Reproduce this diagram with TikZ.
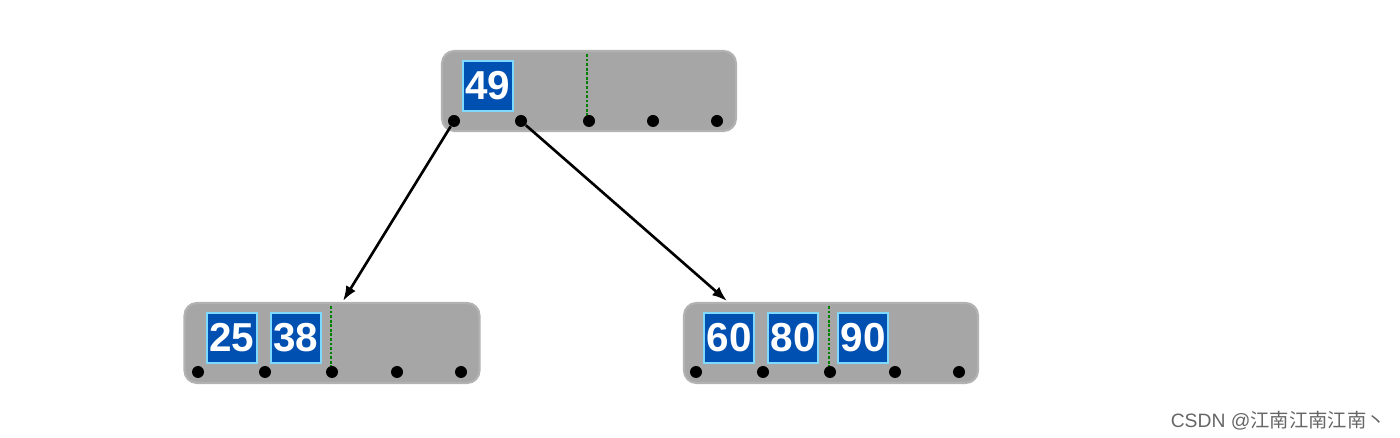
\documentclass[tikz,border=0pt]{standalone}
\usepackage{fontspec}
\setmainfont{Liberation Sans}
\newfontfamily\cjk{Noto Sans CJK SC}
\begin{document}
\begin{tikzpicture}[x=0.02cm,y=-0.02cm,
  bnode/.style={draw=gray!60,line width=1.2pt,fill=gray!70,rounded corners=7pt},
  key/.style={fill=blue!55!cyan!70!black,draw=blue!30!cyan!50,line width=0.6pt,minimum width=1cm,minimum height=1cm,inner sep=0pt,text=white,font=\bfseries\fontsize{23}{23}\selectfont},
  ptr/.style={circle,fill=black,inner sep=0pt,minimum size=0.24cm},
  sep/.style={densely dotted,green!50!black,line width=1.6pt},
  arr/.style={-{Latex[length=0.3cm,width=0.22cm]},line width=1.5pt}]
\useasboundingbox (0,0) rectangle (1400,438);
\usetikzlibrary{arrows.meta}
% top
\node[bnode,minimum width=5.88cm,minimum height=1.6cm] (top) at (589,91) {};
\node[key] (k49) at (488,86) {49};
\draw[sep] (587,54) -- (587,118);
\foreach \x/\n in {454/t1,521/t2,589/t3,653/t4,717/t5} \node[ptr] (\n) at (\x,121) {};
% left
\node[bnode,minimum width=5.9cm,minimum height=1.6cm] (left) at (332,343) {};
\node[key] (k25) at (232,338) {25};
\node[key] (k38) at (296,338) {38};
\draw[sep] (331,306) -- (331,370);
\foreach \x/\n in {198/l1,265/l2,332/l3,397/l4,461/l5} \node[ptr] (\n) at (\x,372) {};
% right
\node[bnode,minimum width=5.88cm,minimum height=1.6cm] (right) at (831,343) {};
\node[key] (k60) at (729,338) {60};
\node[key] (k80) at (793,338) {80};
\node[key] (k90) at (863,338) {90};
\draw[sep] (829,306) -- (829,370);
\foreach \x/\n in {696/r1,763/r2,830/r3,895/r4,959/r5} \node[ptr] (\n) at (\x,372) {};
\coordinate (la) at (343,301);
\coordinate (ra) at (727,301);
\draw[arr] (t1) -- (la);
\draw[arr] (t2) -- (ra);
\node[anchor=east,text=gray!80!black,font=\fontsize{11}{11}\selectfont] (wm) at (1392,421) {CSDN @{\cjk 江南江南江南丶}};
\end{tikzpicture}
\end{document}
